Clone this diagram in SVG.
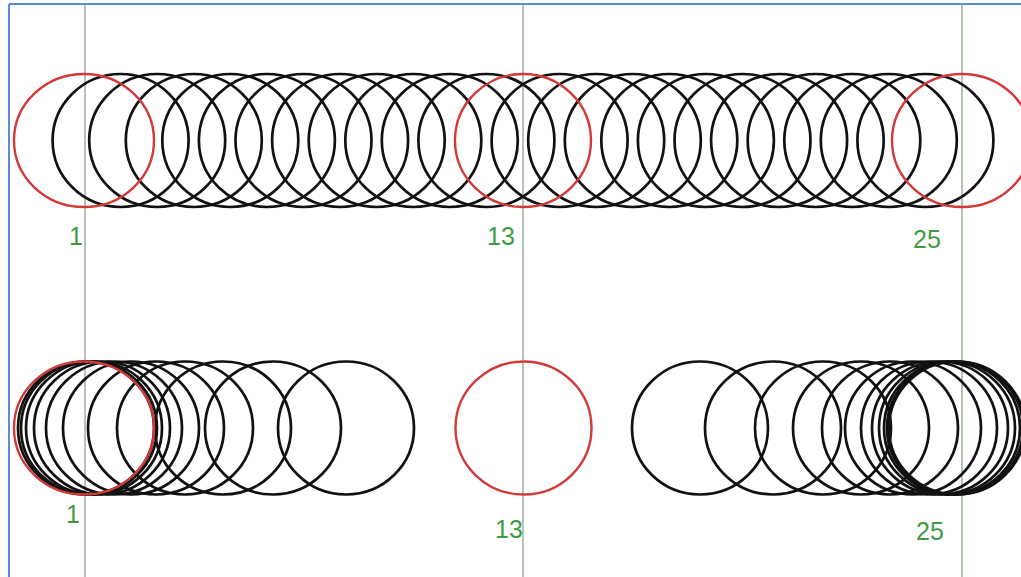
<svg xmlns="http://www.w3.org/2000/svg" width="1021" height="577" viewBox="0 0 1021 577">
<style>
.bg{fill:#ffffff}
.border{stroke:#5b8bd6;stroke-width:2;fill:none}
.guide{stroke:#9fb89f;stroke-width:1.6;fill:none}
.f{fill:none;stroke:#111111;stroke-width:2.7}
.k{fill:none;stroke:#d23a3a;stroke-width:2.4}
.lbl{font-family:"Liberation Sans",Arial,sans-serif;font-size:25px;fill:#3f9a45}
</style>
<rect class="bg" x="0" y="0" width="1021" height="577"/>
<g id="frame">
<line class="border" x1="9" y1="4" x2="1021" y2="4"/>
<line class="border" x1="9" y1="4" x2="9" y2="577"/>
</g>
<g id="guides">
<line class="guide" x1="85" y1="5" x2="85" y2="577"/>
<line class="guide" x1="523" y1="5" x2="523" y2="577"/>
<line class="guide" x1="962" y1="5" x2="962" y2="577"/>
</g>
<g id="top-row">
<ellipse class="f" cx="120.6" cy="140.5" rx="68" ry="66.5"/>
<ellipse class="f" cx="157.2" cy="140.5" rx="68" ry="66.5"/>
<ellipse class="f" cx="193.8" cy="140.5" rx="68" ry="66.5"/>
<ellipse class="f" cx="230.3" cy="140.5" rx="68" ry="66.5"/>
<ellipse class="f" cx="266.9" cy="140.5" rx="68" ry="66.5"/>
<ellipse class="f" cx="303.5" cy="140.5" rx="68" ry="66.5"/>
<ellipse class="f" cx="340.1" cy="140.5" rx="68" ry="66.5"/>
<ellipse class="f" cx="376.7" cy="140.5" rx="68" ry="66.5"/>
<ellipse class="f" cx="413.3" cy="140.5" rx="68" ry="66.5"/>
<ellipse class="f" cx="449.8" cy="140.5" rx="68" ry="66.5"/>
<ellipse class="f" cx="486.4" cy="140.5" rx="68" ry="66.5"/>
<ellipse class="f" cx="559.6" cy="140.5" rx="68" ry="66.5"/>
<ellipse class="f" cx="596.2" cy="140.5" rx="68" ry="66.5"/>
<ellipse class="f" cx="632.8" cy="140.5" rx="68" ry="66.5"/>
<ellipse class="f" cx="669.3" cy="140.5" rx="68" ry="66.5"/>
<ellipse class="f" cx="705.9" cy="140.5" rx="68" ry="66.5"/>
<ellipse class="f" cx="742.5" cy="140.5" rx="68" ry="66.5"/>
<ellipse class="f" cx="779.1" cy="140.5" rx="68" ry="66.5"/>
<ellipse class="f" cx="815.7" cy="140.5" rx="68" ry="66.5"/>
<ellipse class="f" cx="852.3" cy="140.5" rx="68" ry="66.5"/>
<ellipse class="f" cx="888.8" cy="140.5" rx="68" ry="66.5"/>
<ellipse class="f" cx="925.4" cy="140.5" rx="68" ry="66.5"/>
<ellipse class="k" cx="84" cy="140.5" rx="70" ry="66.5"/>
<ellipse class="k" cx="523" cy="140.5" rx="68" ry="66.5"/>
<ellipse class="k" cx="962" cy="140.5" rx="70" ry="66.5"/>
</g>
<g id="top-labels">
<text class="lbl" x="69" y="245">1</text>
<text class="lbl" x="487" y="245">13</text>
<text class="lbl" x="913" y="248">25</text>
</g>
<g id="bottom-left">
<ellipse class="f" cx="86" cy="428" rx="68" ry="66.5"/>
<ellipse class="f" cx="89" cy="428" rx="68" ry="66.5"/>
<ellipse class="f" cx="94" cy="428" rx="68" ry="66.5"/>
<ellipse class="f" cx="102" cy="428" rx="68" ry="66.5"/>
<ellipse class="f" cx="114" cy="428" rx="68" ry="66.5"/>
<ellipse class="f" cx="131" cy="428" rx="68" ry="66.5"/>
<ellipse class="f" cx="156" cy="428" rx="68" ry="66.5"/>
<ellipse class="f" cx="185" cy="428" rx="68" ry="66.5"/>
<ellipse class="f" cx="223" cy="428" rx="68" ry="66.5"/>
<ellipse class="f" cx="273" cy="428" rx="68" ry="66.5"/>
<ellipse class="f" cx="346" cy="428" rx="68" ry="66.5"/>
<ellipse class="k" cx="84" cy="428" rx="70" ry="66.5"/>
</g>
<g id="bottom-middle">
<ellipse class="k" cx="523.5" cy="428" rx="68" ry="66.5"/>
</g>
<g id="bottom-right">
<ellipse class="f" cx="700" cy="428" rx="68" ry="66.5"/>
<ellipse class="f" cx="773" cy="428" rx="68" ry="66.5"/>
<ellipse class="f" cx="823" cy="428" rx="68" ry="66.5"/>
<ellipse class="f" cx="861" cy="428" rx="68" ry="66.5"/>
<ellipse class="f" cx="890" cy="428" rx="68" ry="66.5"/>
<ellipse class="f" cx="913" cy="428" rx="68" ry="66.5"/>
<ellipse class="f" cx="929" cy="428" rx="68" ry="66.5"/>
<ellipse class="f" cx="940" cy="428" rx="68" ry="66.5"/>
<ellipse class="f" cx="947" cy="428" rx="68" ry="66.5"/>
<ellipse class="f" cx="952" cy="428" rx="68" ry="66.5"/>
<ellipse class="f" cx="955" cy="428" rx="68" ry="66.5"/>
<ellipse class="f" cx="957" cy="428" rx="68" ry="66.5"/>
</g>
<g id="bottom-labels">
<text class="lbl" x="66" y="523" font-size="20">1</text>
<text class="lbl" x="495" y="538" font-size="22">13</text>
<text class="lbl" x="916" y="540" font-size="22">25</text>
</g>
</svg>
